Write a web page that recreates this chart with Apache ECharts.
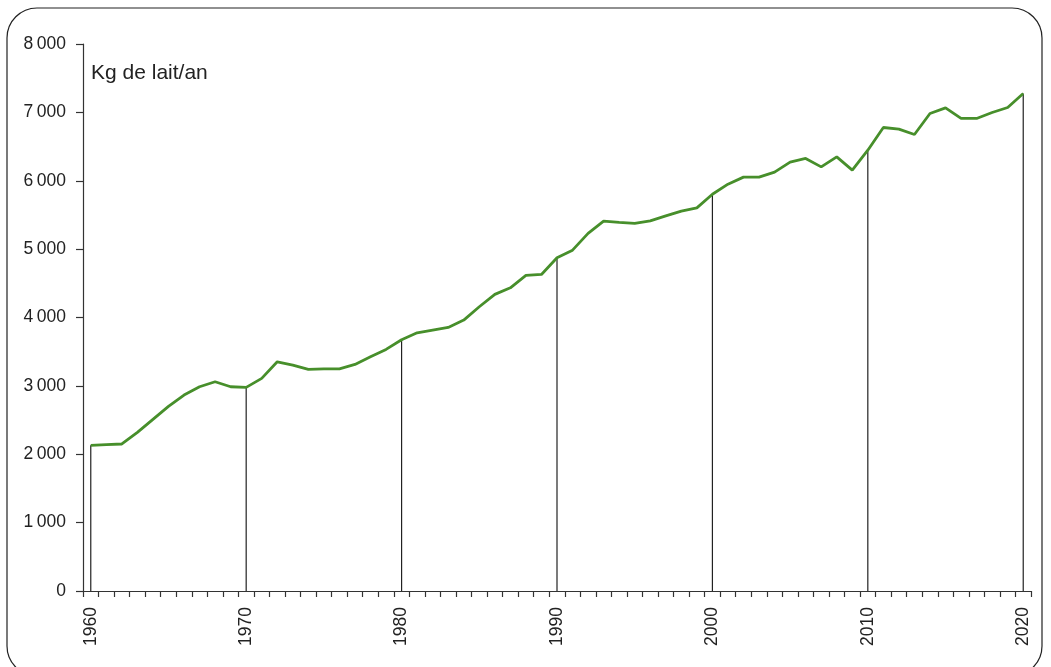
<!DOCTYPE html>
<html>
<head>
<meta charset="utf-8">
<script src="https://cdn.jsdelivr.net/npm/echarts@6/dist/echarts.min.js"></script>
<style>
html,body{margin:0;padding:0;background:#fff;}
#chart{width:1051px;height:667px;}
</style>
</head>
<body>
<div id="chart"></div>
<script>
var years = [];
for (var y = 1960; y <= 2020; y++) years.push(String(y));

var milkYield = [
  2130, 2140, 2150, 2320, 2510, 2700, 2865, 2987, 3060, 2987,
  2978, 3110, 3352, 3304, 3241, 3250, 3250, 3314, 3425, 3533,
  3675, 3776, 3816, 3855, 3962, 4157, 4338, 4434, 4615, 4630,
  4873, 4985, 5230, 5409, 5390, 5376, 5414, 5487, 5556, 5604,
  5802, 5950, 6053, 6053, 6126, 6272, 6326, 6203, 6350, 6155,
  6447, 6779, 6754, 6677, 6984, 7066, 6911, 6911, 6998, 7071,
  7276
];

var decadeYears = ['1960','1970','1980','1990','2000','2010','2020'];
var yTicks = [0, 1000, 2000, 3000, 4000, 5000, 6000, 7000, 8000];
var unitLabel = 'Kg de lait/an';

var decadeDrops = years.map(function (yr, i) {
  return decadeYears.indexOf(yr) >= 0 ? milkYield[i] : '-';
});

var FONT = '"Liberation Sans", Arial, Helvetica, sans-serif';
var chart = echarts.init(document.getElementById('chart'));
chart.setOption({
  animation: false,
  backgroundColor: '#fff',
  grid: { left: 83, right: 20, top: 44, bottom: 76, containLabel: false },
  graphic: [
    {
      type: 'rect', silent: true, z: -1,
      shape: { x: 7, y: 8, width: 1035, height: 668, r: 30 },
      style: { fill: 'none', stroke: '#222', lineWidth: 1.2 }
    },
    {
      type: 'text', left: 91, top: 63,
      style: { text: unitLabel, font: '21px ' + FONT, fill: '#222' }
    }
  ],
  xAxis: {
    type: 'category',
    data: years,
    boundaryGap: true,
    axisLine: { lineStyle: { color: '#333', width: 1.2 } },
    axisTick: { show: true, interval: 0, length: 6, lineStyle: { color: '#333', width: 1.2 } },
    axisLabel: {
      interval: function (idx, val) { return decadeYears.indexOf(val) >= 0; },
      rotate: 90,
      margin: 16,
      fontSize: 17.5,
      fontFamily: FONT,
      color: '#222'
    },
    splitLine: { show: false }
  },
  yAxis: {
    type: 'value',
    min: yTicks[0],
    max: yTicks[yTicks.length - 1],
    interval: 1000,
    axisLine: { show: true, lineStyle: { color: '#333', width: 1.2 } },
    axisTick: { show: true, length: 7, lineStyle: { color: '#333', width: 1.2 } },
    axisLabel: {
      margin: 17,
      fontSize: 17.5,
      fontFamily: FONT,
      color: '#222',
      formatter: function (v) {
        if (v >= 1000) return Math.floor(v / 1000) + '\u2009' + String(v % 1000).padStart(3, '0');
        return String(v);
      }
    },
    splitLine: { show: false }
  },
  series: [
    {
      type: 'bar',
      data: decadeDrops,
      barWidth: 1.2,
      itemStyle: { color: '#222' },
      z: 1,
      silent: true
    },
    {
      type: 'line',
      data: milkYield,
      symbol: 'none',
      lineStyle: { color: '#478f2b', width: 2.8 },
      z: 3,
      silent: true
    }
  ]
});
</script>
</body>
</html>
